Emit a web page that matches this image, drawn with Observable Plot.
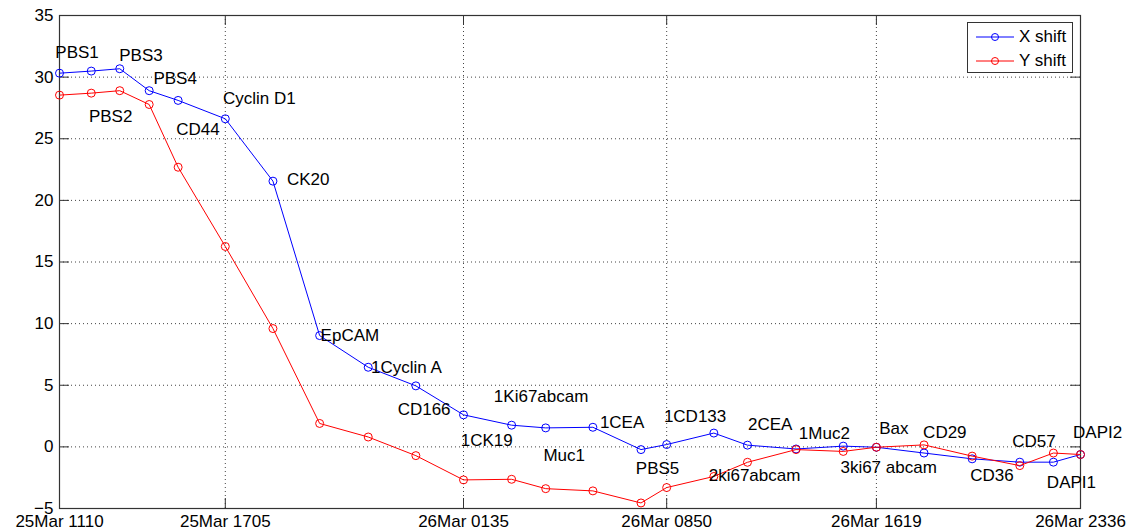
<!DOCTYPE html>
<html>
<head>
<meta charset="utf-8">
<script src="https://cdn.jsdelivr.net/npm/d3@7"></script>
<script src="https://cdn.jsdelivr.net/npm/@observablehq/plot@0.6"></script>
<style>
  html, body { margin: 0; padding: 0; background: #fff; }
  #wrap { position: relative; width: 1130px; height: 532px; font-family: "Liberation Sans", Arial, sans-serif; }
  #legend { position: absolute; left: 967px; top: 22px; width: 106px; height: 51px; border: 1px solid #333; background: #fff; box-sizing: border-box; }
  #legend .row { position: absolute; left: 7px; height: 20px; display: flex; align-items: center; font-size: 17px; color: #000; }
  #legend svg { margin-right: 4px; }
</style>
</head>
<body>
<div id="wrap"><div id="legend"></div></div>
<script>
// ---- data ----
const markerNames = ["PBS1","PBS2","PBS3","PBS4","CD44","Cyclin D1","CK20","EpCAM","1Cyclin A","CD166",
  "1CK19","1Ki67abcam","Muc1","1CEA","PBS5","1CD133","2ki67abcam","2CEA","1Muc2","3ki67 abcam",
  "Bax","CD29","CD36","CD57","DAPI1","DAPI2"];
const times = ["2013-03-25T11:10Z","2013-03-25T12:18Z","2013-03-25T13:19Z","2013-03-25T14:22Z","2013-03-25T15:24Z",
  "2013-03-25T17:05Z","2013-03-25T18:47Z","2013-03-25T20:27Z","2013-03-25T22:11Z","2013-03-25T23:53Z",
  "2013-03-26T01:35Z","2013-03-26T03:18Z","2013-03-26T04:31Z","2013-03-26T06:12Z","2013-03-26T07:55Z",
  "2013-03-26T08:50Z","2013-03-26T10:31Z","2013-03-26T11:43Z","2013-03-26T13:27Z","2013-03-26T15:08Z",
  "2013-03-26T16:19Z","2013-03-26T18:01Z","2013-03-26T19:44Z","2013-03-26T21:26Z","2013-03-26T22:38Z",
  "2013-03-26T23:36Z"];
const xShift = [30.32,30.49,30.68,28.90,28.11,26.62,21.56,9.03,6.46,4.95,
  2.60,1.76,1.54,1.59,-0.22,0.19,1.12,0.14,-0.17,0.06,
  -0.03,-0.50,-0.97,-1.24,-1.24,-0.62];
const yShift = [28.54,28.70,28.90,27.78,22.69,16.26,9.60,1.90,0.80,-0.71,
  -2.68,-2.63,-3.39,-3.57,-4.55,-3.30,-2.40,-1.25,-0.22,-0.37,
  -0.03,0.16,-0.75,-1.52,-0.50,-0.62];
// where each marker's name was written (time, value)
const labelTimes = ["2013-03-25T11:01Z","2013-03-25T12:13Z","2013-03-25T13:18Z","2013-03-25T14:31Z","2013-03-25T15:20Z",
  "2013-03-25T17:00Z","2013-03-25T19:17Z","2013-03-25T20:29Z","2013-03-25T22:17Z","2013-03-25T23:14Z",
  "2013-03-26T01:29Z","2013-03-26T02:40Z","2013-03-26T04:26Z","2013-03-26T06:27Z","2013-03-26T07:44Z",
  "2013-03-26T08:44Z","2013-03-26T10:20Z","2013-03-26T11:44Z","2013-03-26T13:33Z","2013-03-26T15:02Z",
  "2013-03-26T16:25Z","2013-03-26T17:59Z","2013-03-26T19:40Z","2013-03-26T21:10Z","2013-03-26T22:24Z",
  "2013-03-26T23:20Z"];
const labelValues = [32.03,26.81,31.76,29.87,25.75,28.25,21.67,9.03,6.41,3.0,
  0.49,4.11,-0.71,2.0,-1.79,2.46,-2.33,1.79,1.06,-1.71,
  1.46,1.14,-2.33,0.43,-2.86,1.19];
const xTickTimes = ["2013-03-25T11:10Z","2013-03-25T17:05Z","2013-03-26T01:35Z","2013-03-26T08:50Z","2013-03-26T16:19Z","2013-03-26T23:36Z"];
const yTicks = [-5,0,5,10,15,20,25,30,35];
const seriesNames = ["X shift","Y shift"];
const seriesColors = ["#0000ff","#ff0000"];

// ---- build ----
const rows = markerNames.map((m, i) => ({
  name: m, t: new Date(times[i]), x: xShift[i], y: yShift[i],
  lt: new Date(labelTimes[i]), lv: labelValues[i]
}));
const xt = xTickTimes.map(s => new Date(s));
const t0 = xt[0], t1 = xt[xt.length - 1];
const fmt = d3.utcFormat("%d%b %H%M");
const gridStyle = {stroke: "#444", strokeDasharray: "1,3", strokeWidth: 1};
const axisColor = "#333";

const chart = Plot.plot({
  width: 1130, height: 532,
  marginLeft: 59, marginRight: 50, marginTop: 15, marginBottom: 24,
  style: {fontFamily: '"Liberation Sans", Arial, sans-serif', fontSize: "17px", background: "#fff", color: "#000"},
  x: {type: "utc", domain: [t0, t1]},
  y: {domain: [-5, 35]},
  marks: [
    Plot.ruleY(yTicks.slice(1, -1), {y: d => d, ...gridStyle}),
    Plot.ruleX(xt.slice(1, -1), {x: d => d, ...gridStyle}),
    // inward ticks on all four sides
    Plot.ruleY(yTicks, {y: d => d, x1: t0, x2: t0, insetRight: -10, stroke: axisColor}),
    Plot.ruleY(yTicks, {y: d => d, x1: t1, x2: t1, insetLeft: -10, stroke: axisColor}),
    Plot.ruleX(xt, {x: d => d, y1: -5, y2: -5, insetTop: -10, stroke: axisColor}),
    Plot.ruleX(xt, {x: d => d, y1: 35, y2: 35, insetBottom: -10, stroke: axisColor}),
    Plot.frame({stroke: axisColor, strokeWidth: 1.2}),
    Plot.line(rows, {x: "t", y: "x", stroke: seriesColors[0], strokeWidth: 1}),
    Plot.dot(rows, {x: "t", y: "x", stroke: seriesColors[0], fill: "none", r: 4, strokeWidth: 1}),
    Plot.line(rows, {x: "t", y: "y", stroke: seriesColors[1], strokeWidth: 1}),
    Plot.dot(rows, {x: "t", y: "y", stroke: seriesColors[1], fill: "none", r: 4, strokeWidth: 1}),
    Plot.text(rows, {x: "lt", y: "lv", text: "name", textAnchor: "start", lineAnchor: "middle", fill: "#000", fontSize: 17}),
    Plot.axisX({ticks: xt, tickFormat: fmt, tickSize: 0, tickPadding: 6, fontSize: 17, label: null}),
    Plot.axisY({ticks: yTicks, tickSize: 0, tickPadding: 6, fontSize: 17, label: null})
  ]
});
const wrap = document.getElementById("wrap");
wrap.insertBefore(chart, wrap.firstChild);

// legend
const legend = document.getElementById("legend");
seriesNames.forEach((name, i) => {
  const row = document.createElement("div");
  row.className = "row";
  row.style.top = (i === 0 ? 4 : 28) + "px";
  const c = seriesColors[i];
  row.innerHTML = `<svg width="40" height="12"><line x1="1" y1="6" x2="39" y2="6" stroke="${c}" stroke-width="1"/><circle cx="20" cy="6" r="3.5" fill="none" stroke="${c}"/></svg><span>${name}</span>`;
  legend.appendChild(row);
});
</script>
</body>
</html>
